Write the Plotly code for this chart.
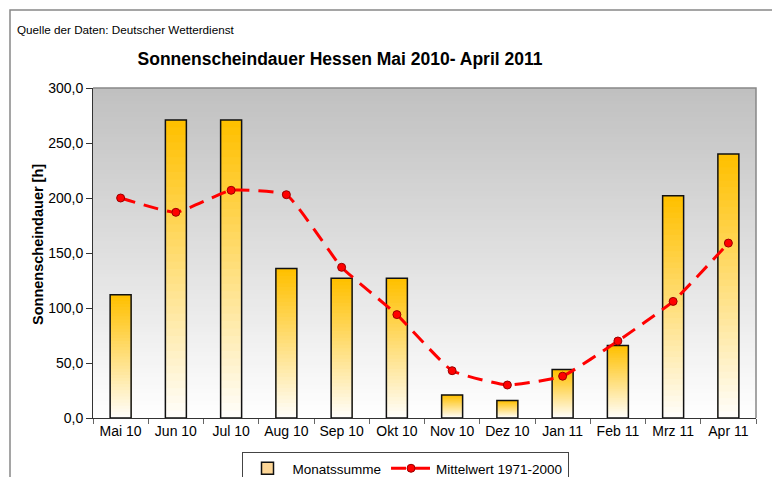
import plotly.graph_objects as go

months = ["Mai 10", "Jun 10", "Jul 10", "Aug 10", "Sep 10", "Okt 10",
          "Nov 10", "Dez 10", "Jan 11", "Feb 11", "Mrz 11", "Apr 11"]
monatssumme = [112, 271, 271, 136, 127, 127, 21, 16, 44, 66, 202, 240]
mittelwert = [200, 187, 207, 203, 137, 94, 43, 30, 38, 70, 106, 159]

FONT = "Liberation Sans, Arial, sans-serif"
OFF = 8  # page body margin
W, H = 780 - OFF, 477 - OFF
# plot area in reference pixels: x 93..756, y 88..418
L, R, T, B = 93 - OFF, 780 - 756, 88 - OFF, 477 - 418
pw, ph = W - L - R, H - T - B

def px_x(p):
    return (p - OFF - L) / pw

def px_y(p):
    return (H + OFF - B - p) / ph

fig = go.Figure()

# legend-only entry for the bars
fig.add_trace(go.Bar(
    x=[None], y=[None], name="Monatssumme", showlegend=True,
    marker=dict(color="rgb(253,214,150)", line=dict(color="#111111", width=1.5)),
))

# Gradient bars: overlaid bars of decreasing height, colour fading to white
N = 40
top = (255, 192, 0)
for k in range(N):
    f = k / N
    c = tuple(int(round(top[i] + (255 - top[i]) * f)) for i in range(3))
    fig.add_trace(go.Bar(
        x=months, y=[v * (1 - f) for v in monatssumme],
        marker=dict(color=f"rgb{c}", line=dict(width=0)),
        name="Monatssumme", showlegend=False, hoverinfo="skip",
    ))
# outline
fig.add_trace(go.Bar(
    x=months, y=monatssumme, name="Monatssumme", showlegend=False,
    marker=dict(color="rgba(0,0,0,0)", line=dict(color="#111111", width=1.5)),
))

fig.add_trace(go.Scatter(
    x=months, y=mittelwert, name="Mittelwert 1971-2000", mode="lines+markers",
    line=dict(color="#FF0000", width=3, dash="15px,9px", shape="spline", smoothing=0.4),
    marker=dict(color="#FF0000", size=8, line=dict(color="#990000", width=1)),
))

# background gradient of plot area (stacked, overlapping strips: no seams)
shapes = []
S = 80
for i in range(S):
    g = int(round(255 - (255 - 192) * (i + 0.5) / S))
    shapes.append(dict(type="rect", xref="paper", yref="paper", layer="below",
                       x0=0, x1=1, y0=i / S, y1=1,
                       fillcolor=f"rgb({g},{g},{g})", line=dict(width=0)))
# plot area border (top/right)
shapes.append(dict(type="path", xref="paper", yref="paper",
                   path="M 0 1 L 1 1 L 1 0", line=dict(color="#888888", width=1.5)))
# outer chart border
shapes.append(dict(type="rect", xref="paper", yref="paper",
                   x0=px_x(10), x1=px_x(774), y0=px_y(490), y1=px_y(10),
                   line=dict(color="#888888", width=1.5), fillcolor="rgba(0,0,0,0)"))

fig.update_layout(
    width=W, height=H,
    margin=dict(l=L, r=R, t=T, b=B, autoexpand=False),
    paper_bgcolor="white", plot_bgcolor="rgba(0,0,0,0)",
    barmode="overlay", bargap=0.62,
    separators=",.",
    font=dict(family=FONT, size=14, color="black"),
    title=dict(text="<b>Sonnenscheindauer Hessen Mai 2010- April 2011</b>",
               x=(340 - OFF) / W, xref="container", xanchor="center",
               y=1 - (59 - OFF) / H, yref="container", yanchor="middle",
               font=dict(size=17.5, family=FONT, color="black")),
    shapes=shapes,
    legend=dict(orientation="h", x=px_x(405), xanchor="center", y=px_y(452), yanchor="top",
                bordercolor="#444444", borderwidth=1, bgcolor="white",
                font=dict(size=13.5, family=FONT), traceorder="normal",
                itemwidth=40),
    annotations=[
        dict(text="Quelle der Daten: Deutscher Wetterdienst", xref="paper", yref="paper",
             x=px_x(15), y=px_y(29), xanchor="left", yanchor="middle", showarrow=False,
             font=dict(size=11.7, family=FONT)),
        dict(text="<b>Sonnenscheindauer [h]</b>", xref="paper", yref="paper",
             x=px_x(38), y=px_y(245), textangle=-90, xanchor="center", yanchor="middle",
             showarrow=False, font=dict(size=14.5, family=FONT)),
    ],
    xaxis=dict(type="category", categoryorder="array", categoryarray=months,
               range=[-0.5, len(months) - 0.5],
               showline=True, linecolor="#333333", linewidth=1, ticks="outside",
               tickson="boundaries", ticklen=5, tickcolor="#666666", showgrid=False,
               tickfont=dict(size=14), automargin=False),
    yaxis=dict(range=[0, 300], dtick=50, tickformat=".1f", showline=True,
               linecolor="#333333", linewidth=1, ticks="outside", ticklen=6,
               tickcolor="#333333", showgrid=False, zeroline=False,
               tickfont=dict(size=14), automargin=False),
)

fig.write_html("out.html")
